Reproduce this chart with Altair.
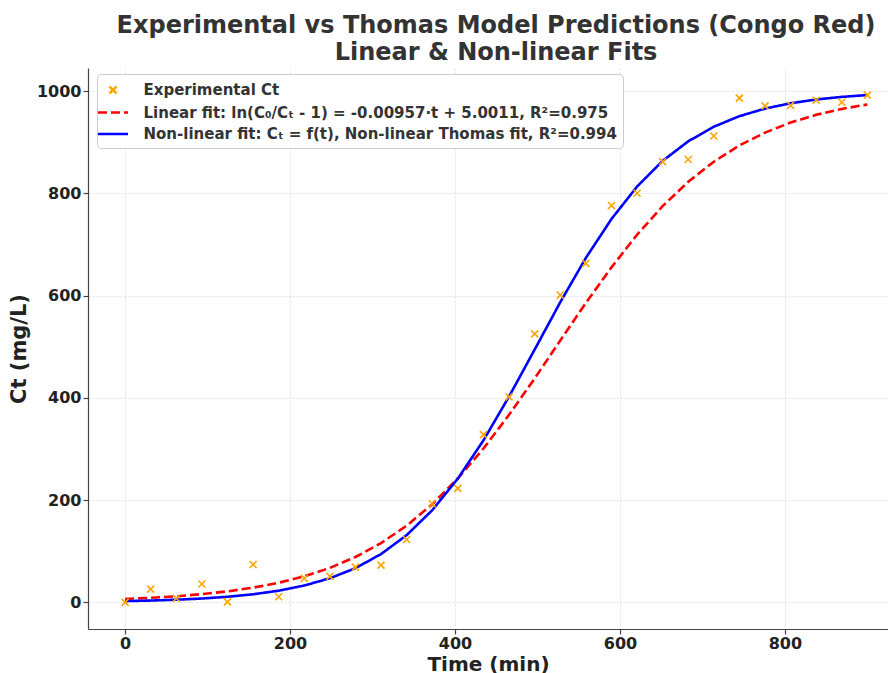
import altair as alt
import pandas as pd

# Time points (min)
times = [0.0, 31.0, 62.1, 93.1, 124.1, 155.2, 186.2, 217.2, 248.3, 279.3,
         310.3, 341.4, 372.4, 403.4, 434.5, 465.5, 496.6, 527.6, 558.6, 589.7,
         620.7, 651.7, 682.8, 713.8, 744.8, 775.9, 806.9, 837.9, 869.0, 900.0]

# Experimental Ct (mg/L)
exp_ct = [0, 26, 8, 36, 1, 74, 11, 47, 51, 69,
          73, 123, 193, 223, 328, 402, 525, 601, 663, 776,
          800, 862, 866, 912, 986, 971, 972, 982, 978, 992]

# Linear-fit Ct (mg/L)
lin_ct = [6.7, 9.0, 12.0, 16.1, 21.6, 28.9, 38.5, 51.1, 67.5, 88.8,
          116.0, 150.1, 192.0, 242.3, 300.9, 366.8, 438.0, 512.0, 585.4, 655.2,
          718.9, 774.8, 822.4, 861.8, 893.5, 918.6, 938.3, 953.4, 965.0, 973.7]

# Non-linear fit Ct (mg/L)
nl_ct = [2.5, 3.6, 5.3, 7.6, 11.0, 15.9, 22.9, 33.0, 47.2, 67.0,
         94.5, 131.6, 180.3, 242.1, 316.9, 402.5, 494.5, 586.9, 673.5, 749.7,
         813.1, 863.3, 901.7, 930.2, 950.8, 965.6, 976.1, 983.4, 988.5, 992.1]

x_ticks = [0, 200, 400, 600, 800]
y_ticks = [0, 200, 400, 600, 800, 1000]

labels = [
    "Experimental Ct",
    "Linear fit: ln(C\u2080/C\u209c - 1) = -0.00957\u00b7t + 5.0011, R\u00b2=0.975",
    "Non-linear fit: C\u209c = f(t), Non-linear Thomas fit, R\u00b2=0.994",
]
colors = ["orange", "red", "blue"]

pts = pd.DataFrame({"t": times, "ct": exp_ct, "series": labels[0]})
lines = pd.concat([
    pd.DataFrame({"t": times, "ct": lin_ct, "series": labels[1]}),
    pd.DataFrame({"t": times, "ct": nl_ct, "series": labels[2]}),
])

FONT = "DejaVu Sans"
xpath = "M-0.39,-0.39L0.39,0.39M0.39,-0.39L-0.39,0.39"
linepath = "M-1.67,0L1.67,0"

x_enc = alt.X("t:Q", scale=alt.Scale(domain=[-45, 925], nice=False, zero=False),
              axis=alt.Axis(values=x_ticks, title="Time (min)"))
y_enc = alt.Y("ct:Q", scale=alt.Scale(domain=[-52, 1045], nice=False, zero=False),
              axis=alt.Axis(values=y_ticks, format="d", title="Ct (mg/L)"))

color_scale = alt.Scale(domain=labels, range=colors)
shape_scale = alt.Scale(domain=labels, range=[xpath, linepath, linepath])
dash_scale = alt.Scale(domain=labels, range=[[1, 0], [9, 4], [1, 0]])

legend = alt.Legend(title=None)

point_layer = alt.Chart(pts).mark_point(filled=False, strokeWidth=1.6, size=324, opacity=1).encode(
    x=x_enc, y=y_enc,
    color=alt.Color("series:N", scale=color_scale, legend=legend),
    shape=alt.Shape("series:N", scale=shape_scale, legend=legend),
)

line_layer = alt.Chart(lines).mark_line(strokeWidth=2.6).encode(
    x=x_enc, y=y_enc,
    color=alt.Color("series:N", scale=color_scale, legend=legend),
    strokeDash=alt.StrokeDash("series:N", scale=dash_scale, legend=legend),
    detail="series:N",
)

chart = alt.layer(line_layer, point_layer).properties(
    width=800,
    height=561,
    autosize=alt.AutoSizeParams(type="none"),
    padding={"left": 80, "top": 60, "right": 0, "bottom": 44},
    title=alt.TitleParams(
        ["Experimental vs Thomas Model Predictions (Congo Red)", "Linear & Non-linear Fits"],
        font=FONT, fontSize=24, fontWeight="bold", color="#333333",
        anchor="middle", offset=3, lineHeight=27, dx=8,
    ),
).configure_view(stroke=None).configure_axis(
    labelFont=FONT, labelFontSize=16, labelFontWeight="bold", labelColor="#222222",
    titleFont=FONT, titleFontSize=21, titleFontWeight="bold", titleColor="#222222",
    domainColor="#444444", domainWidth=1.2, tickColor="#444444", tickSize=5, tickWidth=1.2,
    gridColor="#d9d9d9", gridDash=[2, 2], gridWidth=0.8,
).configure_axisX(labelPadding=1, titlePadding=3, titleFontSize=20).configure_axisY(
    labelPadding=2, titlePadding=7
).configure_legend(
    orient="none", legendX=9, legendY=6, fillColor="white", strokeColor="#cccccc", cornerRadius=4,
    padding=5.5, labelFont=FONT, labelFontSize=15, labelFontWeight="bold", labelColor="#333333",
    labelLimit=0, symbolSize=324, symbolStrokeWidth=2.6, rowPadding=2.5, labelOffset=20,
)

chart.save("out.html", embed_options={"renderer": "svg", "actions": False})
